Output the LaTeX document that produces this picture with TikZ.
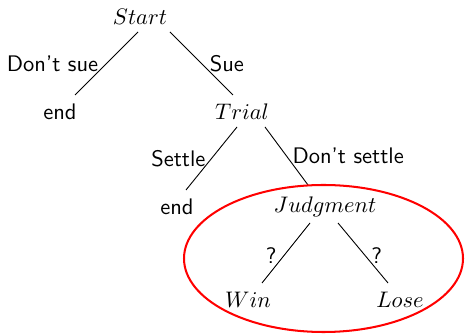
\documentclass[tikz,border=0pt]{standalone}
\usetikzlibrary{shapes.geometric}
\begin{document}
\begin{tikzpicture}[x=0.4444pt,y=-0.4444pt,
  state/.style={inner sep=2pt},
  lab/.style={font=\sffamily, inner sep=1.5pt},
  goal/.style={draw=red, line width=0.9pt, ellipse, inner sep=0pt}]
\useasboundingbox (0,0) rectangle (465,334);
\node[state] (start) at (140,17) {$Start$};
\node[state] (end1) at (60,112) {\sffamily end};
\node[state] (trial) at (242,112) {$Trial$};
\node[state] (end2) at (177,207) {\sffamily end};
\node[state] (judg) at (325,207) {$Judgment$};
\node[state] (win) at (248,300) {$Win$};
\node[state] (lose) at (400,300) {$Lose$};
\draw ([shift={(-2,15)}]start.center) -- ([shift={(15,-17)}]end1.center)
  node[lab, midway, left, xshift=-2pt] {Don't sue};
\draw ([shift={(30,15)}]start.center) -- ([shift={(-9,-17)}]trial.center)
  node[lab, midway, right, xshift=2pt] {Sue};
\draw ([shift={(-5,15)}]trial.center) -- ([shift={(9,-17)}]end2.center)
  node[lab, midway, left, xshift=-1pt] {Settle};
\draw ([shift={(23,15)}]trial.center) -- ([shift={(-17,-22)}]judg.center)
  node[lab, midway, right, xshift=1pt] {Don't settle};
\draw ([shift={(-15,16)}]judg.center) -- ([shift={(14,-17)}]win.center)
  node[lab, midway, left, xshift=-2.5pt, yshift=-1pt] {?};
\draw ([shift={(13,16)}]judg.center) -- ([shift={(-12,-17)}]lose.center)
  node[lab, midway, right, xshift=2pt, yshift=-1pt] {?};
\node[goal, minimum width=279*0.4444pt, minimum height=147*0.4444pt] (ell) at (323.5,258.5) {};
\end{tikzpicture}
\end{document}
